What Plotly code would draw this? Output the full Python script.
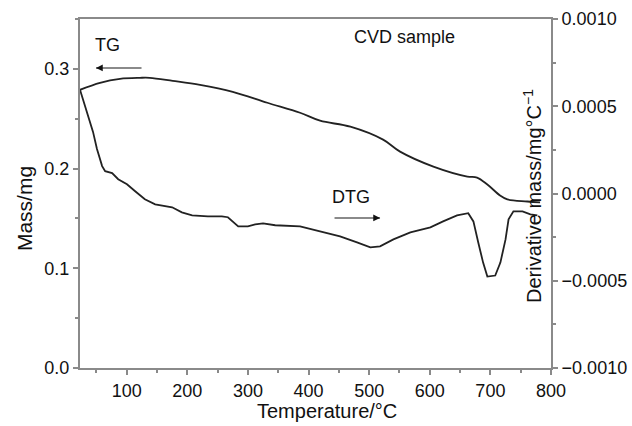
import plotly.graph_objects as go

# TG curve (left axis, mg)
tg_temp = [23, 56, 89, 122, 138, 176, 221, 275, 332, 386, 419, 469, 523, 551,
           606, 662, 678, 695, 716, 728, 761, 782]
tg_mass = [0.279, 0.286, 0.290, 0.291, 0.291, 0.288, 0.284, 0.277, 0.266, 0.256,
           0.248, 0.242, 0.229, 0.217, 0.202, 0.192, 0.191, 0.184, 0.173, 0.169,
           0.167, 0.166]

# DTG curve (right axis, mg/°C)
dtg_temp = [23, 31, 39.5, 44.5, 51, 59.5, 64.5, 76, 86, 100.5, 114, 130, 147, 175,
            191, 208, 234, 257, 267, 284, 300, 312, 325, 345, 386, 419, 452, 480,
            502, 518, 540, 568, 601, 622, 645, 663.5, 672, 680, 688, 695, 708,
            716.5, 725, 730, 738, 753, 766, 777.5]
dtg_val_e4 = [5.95, 5.03, 4.10, 3.53, 2.55, 1.57, 1.28, 1.17, 0.82, 0.53, 0.13,
              -0.33, -0.62, -0.79, -1.08, -1.25, -1.31, -1.31, -1.36, -1.88, -1.88,
              -1.77, -1.71, -1.82, -1.88, -2.17, -2.46, -2.80, -3.09, -3.03, -2.63,
              -2.23, -1.94, -1.60, -1.25, -1.13, -1.60, -2.81, -3.96, -4.76, -4.70,
              -3.96, -2.63, -1.48, -1.02, -1.02, -1.19, -1.25]
dtg_val = [v * 1e-4 for v in dtg_val_e4]

left_ticks = [0.0, 0.1, 0.2, 0.3]
right_ticks = [-0.001, -0.0005, 0.0, 0.0005, 0.001]
x_ticks = [100, 200, 300, 400, 500, 600, 700, 800]

FONT = "Liberation Sans, Arial, sans-serif"
AX = "#8a8a8a"
LINE = "#222222"

fig = go.Figure()
fig.add_trace(go.Scatter(x=tg_temp, y=tg_mass, mode="lines", line=dict(color=LINE, width=1.8),
                         name="TG", showlegend=False, line_shape="spline"))
fig.add_trace(go.Scatter(x=dtg_temp, y=dtg_val, mode="lines", line=dict(color=LINE, width=1.8),
                         name="DTG", showlegend=False, yaxis="y2"))

fig.update_layout(
    width=632, height=426,
    margin=dict(l=80, r=81, t=19, b=58),
    paper_bgcolor="white", plot_bgcolor="white",
    font=dict(family=FONT, size=18, color="#111"),
    xaxis=dict(range=[23, 800], tickvals=x_ticks, showgrid=False, zeroline=False,
               showline=True, linecolor=AX, linewidth=2, mirror=True, automargin=False,
               ticks="outside", ticklen=5, tickcolor=AX, tickwidth=1.5,
               tickfont=dict(size=18),
               minor=dict(dtick=50, tick0=0, ticks="outside", ticklen=3, tickcolor=AX)),
    yaxis=dict(range=[0, 0.35], tickvals=left_ticks, tickformat=".1f", showgrid=False,
               zeroline=False, showline=True, linecolor=AX, linewidth=2, automargin=False,
               ticks="outside", ticklen=5, tickcolor=AX, tickwidth=1.5,
               tickfont=dict(size=18),
               minor=dict(dtick=0.05, tick0=0, ticks="outside", ticklen=3, tickcolor=AX)),
    yaxis2=dict(range=[-0.001, 0.001], tickvals=right_ticks, tickformat=".4f",
                overlaying="y", side="right", showgrid=False, zeroline=False,
                showline=True, linecolor=AX, linewidth=2, automargin=False,
                ticks="outside", ticklen=5, tickcolor=AX, tickwidth=1.5,
                tickfont=dict(size=18),
                minor=dict(dtick=0.00025, tick0=0, ticks="outside", ticklen=3, tickcolor=AX)),
)

C = dict(xref="paper", yref="paper", xanchor="center", yanchor="middle")
annos = [
    dict(text="TG", x=0.0594, y=0.9255, showarrow=False, font=dict(size=18), **C),
    dict(text="CVD sample", x=0.688, y=0.948, showarrow=False, font=dict(size=18), **C),
    dict(text="DTG", x=0.5754, y=0.49, showarrow=False, font=dict(size=18), **C),
    dict(text="Derivative mass/mg°C<sup>−1</sup>", x=0.9597, y=0.4928,
         showarrow=False, textangle=-90, font=dict(size=20), **C),
    dict(text="Mass/mg", x=-0.119, y=0.458, showarrow=False,
         textangle=-90, font=dict(size=21), **C),
    dict(text="Temperature/°C", x=0.524, y=-0.1232,
         showarrow=False, font=dict(size=20), **C),
    # TG arrow (gray shaft, black head)
    dict(text="", x=0.034, y=0.8596, xref="paper", yref="paper", ax=47, ay=0,
         showarrow=True, arrowhead=0, arrowwidth=2, arrowcolor="#8a8a8a"),
    dict(text="", x=0.034, y=0.8596, xref="paper", yref="paper", ax=7, ay=0,
         showarrow=True, arrowhead=2, arrowsize=0.9, arrowwidth=1.5, arrowcolor="#111"),
    # DTG arrow
    dict(text="", x=0.637, y=0.4298, xref="paper", yref="paper", ax=-47, ay=0,
         showarrow=True, arrowhead=0, arrowwidth=2, arrowcolor="#8a8a8a"),
    dict(text="", x=0.637, y=0.4298, xref="paper", yref="paper", ax=-7, ay=0,
         showarrow=True, arrowhead=2, arrowsize=0.9, arrowwidth=1.5, arrowcolor="#111"),
]
fig.update_layout(annotations=annos)

fig.write_html("out.html", config={"displayModeBar": False},
               post_script="document.body.style.margin='0';")
